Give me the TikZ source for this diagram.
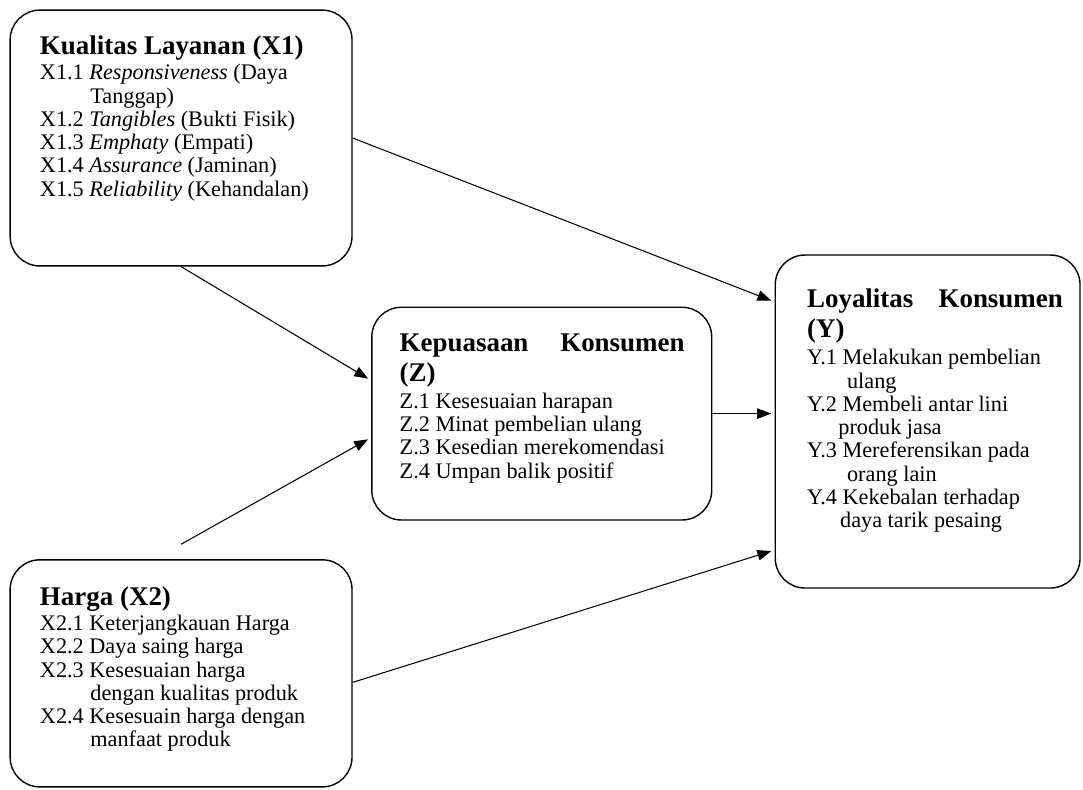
\documentclass[tikz,border=0pt]{standalone}
\usepackage{fontspec}
\setmainfont{Liberation Serif}
\usetikzlibrary{arrows.meta, positioning}
\tikzset{
  varbox/.style={rectangle, rounded corners=0.6cm, draw=black,
    line width=0.8pt, inner sep=0pt},
  vartext/.style={inner sep=0pt, align=left,
    font=\fontsize{12.8}{13.4}\selectfont},
  arr/.style={-{Triangle[length=8pt,width=6pt]}, line width=0.6pt,
    shorten >=2pt},
}
\newcommand{\vtitle}{\fontsize{15.5}{16}\selectfont\bfseries}

\begin{document}
\begin{tikzpicture}
  \useasboundingbox (0,0) rectangle (21.89,15.95);
  % the four variables
  \node[varbox, minimum width=6.91cm, minimum height=5.17cm]
    (x1) at (3.66,13.16) {};
  \node[varbox, minimum width=6.87cm, minimum height=4.30cm]
    (z) at (10.95,7.59) {};
  \node[varbox, minimum width=6.16cm, minimum height=6.73cm]
    (y) at (18.75,7.43) {};
  \node[varbox, minimum width=6.91cm, minimum height=4.59cm]
    (x2) at (3.66,2.34) {};
  % indicators
  \node[vartext, below right=0.53cm and 0.61cm of x1.north west] (x1t)
    {{\vtitle Kualitas Layanan (X1)}\\[1pt]
     X1.1 \textit{Responsiveness} (Daya\\
     \hspace*{29pt}Tanggap)\\
     X1.2 \textit{Tangibles} (Bukti Fisik)\\
     X1.3 \textit{Emphaty} (Empati)\\
     X1.4 \textit{Assurance} (Jaminan)\\
     X1.5 \textit{Reliability} (Kehandalan)};
  \node[vartext, below right=0.55cm and 0.57cm of z.north west] (zt)
    {{\vtitle \hbox to 5.76cm{Kepuasaan\hfill Konsumen}}\\[2pt]
     {\vtitle (Z)}\\[2pt]
     Z.1 Kesesuaian harapan\\
     Z.2 Minat pembelian ulang\\
     Z.3 Kesedian merekomendasi\\
     Z.4 Umpan balik positif};
  \node[vartext, below right=0.68cm and 0.65cm of y.north west] (yt)
    {{\vtitle \hbox to 5.17cm{Loyalitas\hfill Konsumen}}\\[2.7pt]
     {\vtitle (Y)}\\[2pt]
     Y.1 Melakukan pembelian\\
     \hspace*{23pt}ulang\\
     Y.2 Membeli antar lini\\
     \hspace*{18pt}produk jasa\\
     Y.3 Mereferensikan pada\\
     \hspace*{23pt}orang lain\\
     Y.4 Kekebalan terhadap\\
     \hspace*{19pt}daya tarik pesaing};
  \node[vartext, below right=0.55cm and 0.61cm of x2.north west] (x2t)
    {{\vtitle Harga (X2)}\\[1pt]
     X2.1 Keterjangkauan Harga\\
     X2.2 Daya saing harga\\
     X2.3 Kesesuaian harga\\
     \hspace*{29pt}dengan kualitas produk\\
     X2.4 Kesesuain harga dengan\\
     \hspace*{29pt}manfaat produk};
  % paths
  \coordinate[above=0.3cm of x2.north] (x2top);
  \draw[arr] (x1.east) -- (y.142);
  \draw[arr] (x1.south) -- (z.169);
  \draw[arr] (x2top) -- (z.188);
  \draw[arr] (z.east) -- (z.east -| y.west);
  \draw[arr] (x2.357) -- (y.220);
\end{tikzpicture}
\end{document}
